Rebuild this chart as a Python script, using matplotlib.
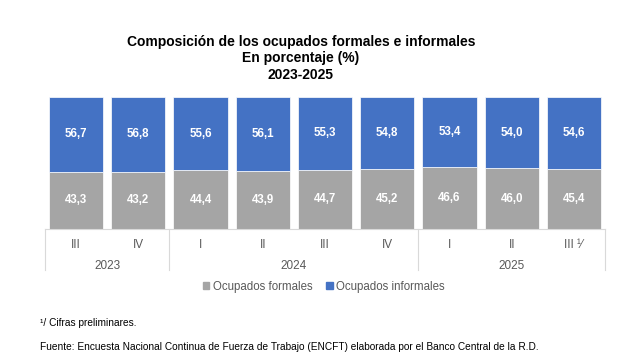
import matplotlib
matplotlib.use("Agg")
import matplotlib.pyplot as plt
from matplotlib.patches import Patch
import matplotlib.transforms as mtransforms

plt.rcParams['font.family'] = ['Liberation Sans', 'DejaVu Sans']

quarters = ["III", "IV", "I", "II", "III", "IV", "I", "II", "III ¹⁄"]
years = ["2023", "2024", "2025"]
year_counts = [2, 4, 3]
formales = [43.3, 43.2, 44.4, 43.9, 44.7, 45.2, 46.6, 46.0, 45.4]
informales = [56.7, 56.8, 55.6, 56.1, 55.3, 54.8, 53.4, 54.0, 54.6]

c_formal = "#A5A5A5"
c_informal = "#4472C4"
txt_gray = "#595959"

fig = plt.figure(figsize=(6.2, 3.6), dpi=100)
ax = fig.add_axes([45/620, 1-229/360, 560/620, 132/360])

x = list(range(len(quarters)))
w = 0.87
ax.bar(x, formales, width=w, color=c_formal, edgecolor="white", linewidth=0.5)
ax.bar(x, informales, bottom=formales, width=w, color=c_informal, edgecolor="white", linewidth=0.5)

fmt = lambda v: f"{v:.1f}".replace(".", ",")
for i, (f, inf) in enumerate(zip(formales, informales)):
    ax.text(i, f/2, fmt(f), ha="center", va="center", color="white", fontsize=8.3, fontweight="bold")
    ax.text(i, f + inf/2, fmt(inf), ha="center", va="center", color="white", fontsize=8.3, fontweight="bold")

ax.set_xlim(-0.5, len(quarters)-0.5)
ax.set_ylim(0, 100)
ax.set_yticks([])
for s in ["top", "right", "left"]:
    ax.spines[s].set_visible(False)
ax.spines["bottom"].set_color("#D9D9D9")
ax.set_xticks(x)
ax.set_xticklabels(quarters, color=txt_gray, fontsize=8.5)
ax.tick_params(axis="x", length=0, pad=7)

trans = mtransforms.blended_transform_factory(ax.transData, ax.transAxes)
bounds = [-0.5]
pos = -0.5
for c in year_counts:
    pos += c
    bounds.append(pos)
for b in bounds:
    ax.plot([b, b], [0, -0.31], transform=trans, color="#D9D9D9", lw=0.8, clip_on=False)
start = -0.5
for yr, c in zip(years, year_counts):
    ax.text(start + c/2, -0.28, yr, transform=trans, ha="center", va="center", color=txt_gray, fontsize=8.5)
    start += c

tx = 301/620
fig.text(tx, 1-42/360, "Composición de los ocupados formales e informales", ha="center", va="center", fontsize=10, fontweight="bold")
fig.text(tx, 1-58/360, "En porcentaje (%)", ha="center", va="center", fontsize=10, fontweight="bold")
fig.text(tx, 1-75/360, "2023-2025", ha="center", va="center", fontsize=10, fontweight="bold")

handles = [Patch(color=c_formal, label="Ocupados formales"), Patch(color=c_informal, label="Ocupados informales")]
leg = fig.legend(handles=handles, loc="center", bbox_to_anchor=(324/620, 1-287/360), ncol=2, frameon=False,
                 fontsize=8.3, handlelength=0.55, handleheight=0.55, handletextpad=0.3, columnspacing=1.2)
for t in leg.get_texts():
    t.set_color(txt_gray)

fig.text(40/620, 1-323/360, "¹/ Cifras preliminares.", ha="left", va="center", fontsize=7.3)
fig.text(40/620, 1-347/360, "Fuente: Encuesta Nacional Continua de Fuerza de Trabajo (ENCFT) elaborada por el Banco Central de la R.D.",
         ha="left", va="center", fontsize=7.3)

fig.savefig("out.png", dpi=100)
